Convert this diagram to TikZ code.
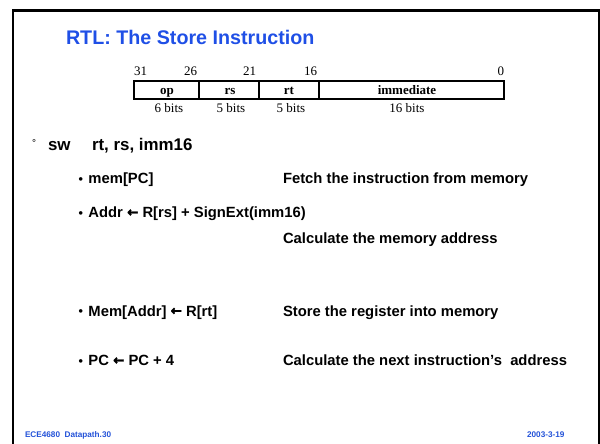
\documentclass[tikz,border=0pt]{standalone}
\usepackage{fontspec}
\setmainfont{Liberation Sans}
\newfontfamily\timesf{Liberation Serif}
\newfontfamily\arrowf[FakeBold=2.5]{DejaVu Sans Bold}
\definecolor{titleblue}{HTML}{1F4FE6}
\definecolor{footblue}{HTML}{2352D8}
\newcommand\lfarrow{\raisebox{0.8pt}{\arrowf\fontsize{13.5}{15}\selectfont ←}}
\newcommand\itembullet{{\fontsize{12.5}{14}\selectfont\raisebox{0.4pt}{•}}\hspace{5.6pt}}

\begin{document}
\begin{tikzpicture}[x=1pt,y=-1pt,
  every node/.style={inner sep=0pt, outer sep=0pt},
  title/.style={anchor=base west, text=titleblue, font=\fontsize{19.7}{22}\selectfont\bfseries},
  lvlone/.style={anchor=base west, font=\fontsize{16.9}{19}\selectfont\bfseries},
  body/.style={anchor=base west, font=\fontsize{14.8}{17}\selectfont\bfseries},
  bitnum/.style={anchor=base east, font=\timesf\fontsize{13}{15}\selectfont},
  field/.style={anchor=base, font=\timesf\fontsize{13}{15}\selectfont\bfseries},
  width/.style={anchor=base, font=\timesf\fontsize{13}{15}\selectfont},
  foot/.style={text=footblue, font=\fontsize{8.2}{10}\selectfont\bfseries},
  frameline/.style={line cap=rect}]
\useasboundingbox (0,0) rectangle (600,444);

% slide frame
\draw[frameline, line width=2.4pt] (12.9,444) -- (12.9,10.3);
\draw[frameline, line width=2.8pt] (12.9,10.3) -- (599,10.3);
\draw[line width=1.4pt] (599,10.3) -- (599,444);

% heading
\node[title] (head) at (66,45) {RTL: The Store Instruction};

% instruction format
\node[anchor=base west, font=\timesf\fontsize{13}{15}\selectfont] (b31) at (134,76) {31};
\node[bitnum] (b26) at (197,76) {26};
\node[bitnum] (b21) at (256,76) {21};
\node[bitnum] (b16) at (317,76) {16};
\node[bitnum] (b0) at (504,76) {0};

\draw[line width=1.7pt] (134,81) rectangle (504,99);
\draw[line width=1.2pt] (199,81) -- (199,99) (259,81) -- (259,99) (319,81) -- (319,99);

\node[field] (fop) at (167,94.5) {op};
\node[field] (frs) at (230,94.5) {rs};
\node[field] (frt) at (289,94.5) {rt};
\node[field] (fimm) at (407,94.5) {immediate};

\node[width] (wop) at (169,113) {6 bits};
\node[width] (wrs) at (231,113) {5 bits};
\node[width] (wrt) at (291,113) {5 bits};
\node[width] (wimm) at (407,113) {16 bits};

% instruction and its steps
\node[anchor=base west, font=\fontsize{10}{12}\selectfont] (ring) at (32,146) {°};
\node[lvlone] (sw) at (48,150) {sw};
\node[lvlone] (swargs) at (92,150) {rt, rs, imm16};

\node[body] (s1) at (78.5,183.5) {\itembullet mem[PC]};
\node[body] (d1) at (283,183.5) {Fetch the instruction from memory};

\node[body] (s2) at (78.5,217.5) {\itembullet Addr \lfarrow\ R[rs] + SignExt(imm16)};
\node[body] (d2) at (283,243.5) {Calculate the memory address};

\node[body] (s3) at (78.5,316) {\itembullet Mem[Addr] \lfarrow\ R[rt]};
\node[body] (d3) at (283,316) {Store the register into memory};

\node[body] (s4) at (78.5,365.5) {\itembullet PC \lfarrow\ PC + 4};
\node[body] (d4) at (283,365.5) {Calculate the next instruction’s\ \ address};

% footer
\node[foot, anchor=base west] (fl) at (25,437) {ECE4680\ \ Datapath.30};
\node[foot, anchor=base east] (fr) at (564.5,437) {2003-3-19};
\end{tikzpicture}
\end{document}
